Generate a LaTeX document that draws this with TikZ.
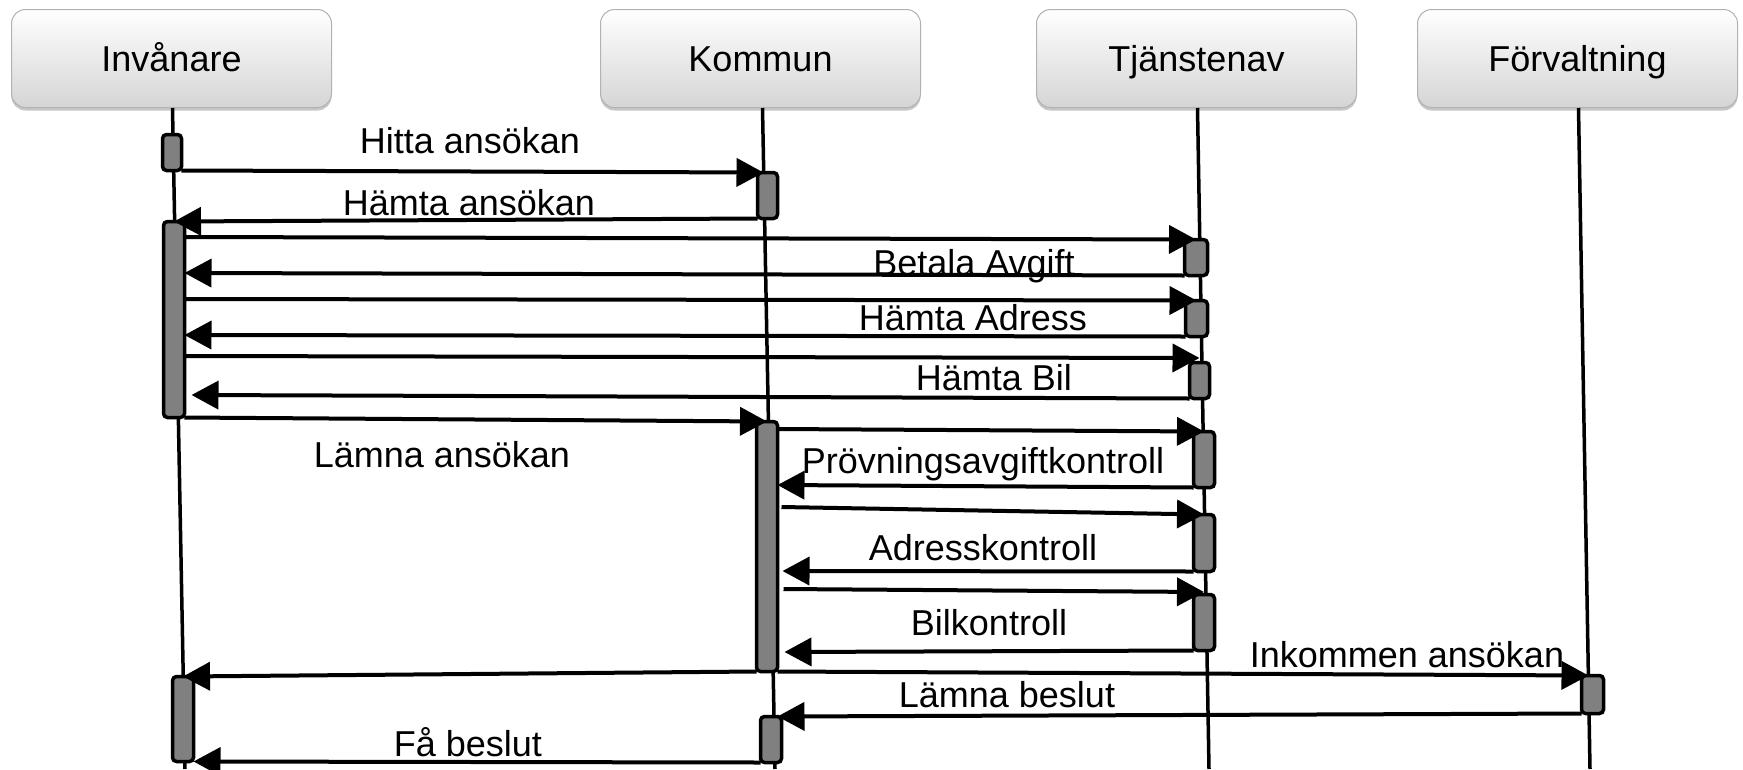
\documentclass[tikz,border=0pt]{standalone}
\usepackage{fontspec}
\setmainfont{Liberation Sans}
\usetikzlibrary{arrows.meta,shadows,calc}
\begin{document}
\begin{tikzpicture}[x=1pt,y=-1pt,
  head/.style={draw=gray!60, line width=1pt, rounded corners=14pt, top color=white, bottom color=gray!33,
    minimum width=320pt, minimum height=98pt, anchor=north west, inner sep=0pt,
    text height=26pt, text depth=0pt, font=\fontsize{36}{40}\selectfont,
    drop shadow={opacity=0.45, shadow xshift=0pt, shadow yshift=-3pt}},
  life/.style={line width=3.5pt},
  act/.style={draw=black, fill=gray, line width=3.5pt, rounded corners=4pt, anchor=north west, inner sep=0pt, outer sep=0pt},
  msg/.style={line width=4pt, -{Triangle[length=27pt,width=28pt]}},
  lbl/.style={font=\fontsize{36}{40}\selectfont, inner sep=0pt, anchor=base}]
\useasboundingbox (0,0) rectangle (1743,769);

% headers
\node[head] (inv) at (11,9) {Invånare};
\node[head] (kom) at (600,9) {Kommun};
\node[head] (tja) at (1036,9) {Tjänstenav};
\node[head] (forv) at (1417,9) {Förvaltning};

% lifelines
\coordinate (invB) at (185,769);
\coordinate (komB) at (775,769);
\coordinate (tjaB) at (1209,769);
\coordinate (forvB) at (1590,769);
\draw[life] ([xshift=1pt]inv.south) -- (invB);
\draw[life] ([xshift=2pt]kom.south) -- (komB);
\draw[life] ([xshift=1pt]tja.south) -- (tjaB);
\draw[life] ([xshift=1pt]forv.south) -- (forvB);

% activation boxes
\node[act, minimum width=19pt, minimum height=36pt] (A1) at (162.5,134.5) {};
\node[act, minimum width=21pt, minimum height=196pt] (A2) at (163.5,221.5) {};
\node[act, minimum width=21pt, minimum height=85pt] (A3) at (172.5,676.5) {};
\node[act, minimum width=20pt, minimum height=46pt] (K1) at (757.5,172.5) {};
\node[act, minimum width=21pt, minimum height=250pt] (K2) at (756.5,421.5) {};
\node[act, minimum width=21pt, minimum height=46pt] (K3) at (760.5,716.5) {};
\node[act, minimum width=23pt, minimum height=36pt] (T1) at (1184.5,239.5) {};
\node[act, minimum width=22pt, minimum height=36pt] (T2) at (1185.5,300.5) {};
\node[act, minimum width=20pt, minimum height=36pt] (T3) at (1189.5,362.5) {};
\node[act, minimum width=21pt, minimum height=56pt] (T4) at (1193.5,431.5) {};
\node[act, minimum width=21pt, minimum height=57pt] (T5) at (1193.5,514.5) {};
\node[act, minimum width=21pt, minimum height=56pt] (T6) at (1193.5,594.5) {};
\node[act, minimum width=22pt, minimum height=38pt] (F1) at (1581.5,675.5) {};

% messages
\draw[msg] (A1.south east) -- ([xshift=-4pt]K1.north);
\draw[msg] (K1.south west) -- (A2.north);
\draw[msg] (A2.east |- 0,237) -- (T1.north);
\draw[msg] (T1.south west) -- (A2.east |- 0,273);
\draw[msg] (A2.east |- 0,299) -- (T2.north);
\draw[msg] (T2.south west) -- (A2.east |- 0,335);
\draw[msg] (A2.east |- 0,356) -- (T3.north |- 0,358);
\draw[msg] (T3.south west) -- ($(A2.east |- 0,395)+(7,0)$);
\draw[msg] (A2.south east) -- (K2.north);
\draw[msg] (K2.east |- 0,429) -- (T4.north);
\draw[msg] (T4.south west) -- (K2.east |- 0,485);
\draw[msg] ($(K2.east |- 0,507)+(4,0)$) -- (T5.north);
\draw[msg] (T5.south west) -- ($(K2.east |- 0,571)+(5,0)$);
\draw[msg] ($(K2.east |- 0,589)+(6,0)$) -- (T6.north |- 0,592);
\draw[msg] (T6.south west) -- ($(K2.east |- 0,652)+(7,0)$);
\draw[msg] (K2.south west) -- (A3.north);
\draw[msg] (K2.south east) -- ([xshift=-4pt]F1.north);
\draw[msg] (F1.south west) -- ([xshift=-4pt]K3.north east);
\draw[msg] (K3.south west) -- (A3.south east);

% labels
\node[lbl] (l1) at (470,153) {Hitta ansökan};
\node[lbl] (l2) at (469,215) {Hämta ansökan};
\node[lbl] (l3) at (974,275) {Betala Avgift};
\node[lbl] (l4) at (973,330) {Hämta Adress};
\node[lbl] (l5) at (994,390) {Hämta Bil};
\node[lbl] (l6) at (442,467) {Lämna ansökan};
\node[lbl] (l7) at (983,473) {Prövningsavgiftkontroll};
\node[lbl] (l8) at (983,560) {Adresskontroll};
\node[lbl] (l9) at (989,635) {Bilkontroll};
\node[lbl] (l10) at (1407,667) {Inkommen ansökan};
\node[lbl] (l11) at (1007,707) {Lämna beslut};
\node[lbl] (l12) at (468,756) {Få beslut};
\end{tikzpicture}
\end{document}
